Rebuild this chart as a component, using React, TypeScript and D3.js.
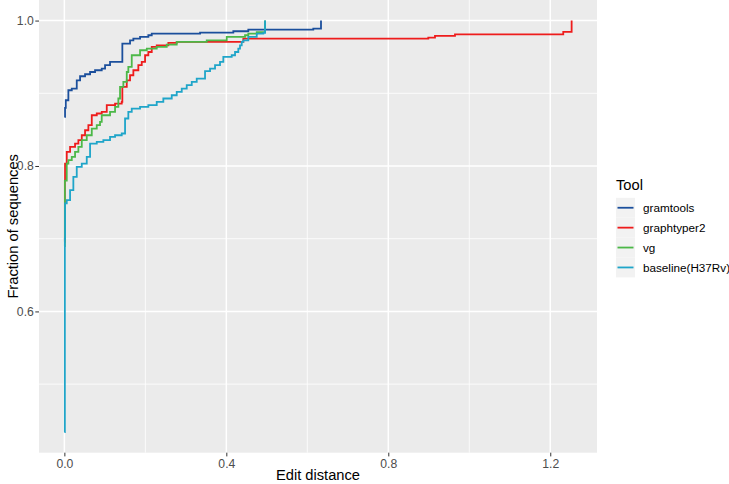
import React, { useEffect, useRef } from 'react';
import * as d3 from 'd3';

// Legend order + colours
const tools = ['gramtools', 'graphtyper2', 'vg', 'baseline(H37Rv)'];
const toolColors = ['#1B4F9C', '#EE1C1C', '#4CB848', '#1FA5C9'];

// Step corners (edit distance, fraction of sequences)
const gramtoolsDist = [0, 0.0017, 0.0035, 0.0099, 0.0183, 0.0306, 0.0388, 0.0511, 0.0635, 0.0758, 0.0923, 0.1005, 0.1128, 0.1432, 0.1622, 0.1704, 0.1869, 0.2074, 0.2158, 0.3351, 0.4173, 0.4543, 0.6148, 0.6338];
const gramtoolsFrac = [0.8675, 0.880, 0.8904, 0.9042, 0.9065, 0.9178, 0.9234, 0.9262, 0.9293, 0.9317, 0.9340, 0.9386, 0.9431, 0.9684, 0.9729, 0.9753, 0.9775, 0.9798, 0.9821, 0.9835, 0.9853, 0.9876, 0.9890, 1.0];

const graphtyperDist = [0, 0.0012, 0.0017, 0.0059, 0.0141, 0.0264, 0.0346, 0.0430, 0.0511, 0.0593, 0.0677, 0.0800, 0.0923, 0.1047, 0.1252, 0.1417, 0.1432, 0.1541, 0.1622, 0.1704, 0.1827, 0.1911, 0.1993, 0.2074, 0.2158, 0.2281, 0.2568, 0.2775, 0.4420, 0.8988, 0.9153, 0.9647, 1.2321, 1.2528];
const graphtyperFrac = [0.6957, 0.780, 0.8034, 0.8194, 0.8263, 0.8309, 0.8355, 0.8423, 0.8492, 0.8561, 0.8698, 0.8722, 0.8744, 0.8836, 0.8859, 0.8881, 0.9087, 0.9178, 0.9248, 0.9317, 0.9386, 0.9431, 0.9523, 0.9568, 0.9637, 0.9660, 0.9692, 0.9706, 0.9753, 0.9765, 0.9790, 0.9810, 0.9845, 1.0];

const vgDist = [0, 0.0012, 0.0059, 0.0099, 0.0183, 0.0264, 0.0346, 0.0430, 0.0553, 0.0677, 0.0800, 0.0881, 0.0923, 0.1128, 0.1252, 0.1333, 0.1375, 0.1457, 0.1541, 0.1580, 0.1664, 0.1869, 0.2035, 0.2281, 0.2528, 0.2775, 0.3516, 0.4010, 0.4462, 0.4543, 0.4751, 0.4956];
const vgFrac = [0.690, 0.780, 0.8034, 0.8080, 0.8125, 0.8194, 0.8263, 0.8355, 0.8423, 0.8515, 0.8561, 0.8606, 0.8698, 0.8744, 0.8812, 0.8928, 0.9087, 0.9156, 0.9293, 0.9362, 0.9523, 0.9592, 0.9615, 0.9637, 0.9670, 0.9706, 0.9729, 0.9775, 0.9798, 0.9821, 0.9840, 1.0];

const baselineDist = [0, 0.0012, 0.0017, 0.0059, 0.0141, 0.0222, 0.0306, 0.0430, 0.0553, 0.0635, 0.0800, 0.0963, 0.1128, 0.1252, 0.1417, 0.1499, 0.1580, 0.1664, 0.1869, 0.2074, 0.2281, 0.2444, 0.2652, 0.2775, 0.2899, 0.3022, 0.3146, 0.3269, 0.3474, 0.3598, 0.3721, 0.3844, 0.3926, 0.4133, 0.4215, 0.4296, 0.4338, 0.4380, 0.4420, 0.4543, 0.4751, 0.4914, 0.4956];
const baselineFrac = [0.434, 0.700, 0.7485, 0.7530, 0.7667, 0.7850, 0.7988, 0.8034, 0.8125, 0.8309, 0.8331, 0.8355, 0.8400, 0.8423, 0.8447, 0.8653, 0.8744, 0.8790, 0.8812, 0.8836, 0.8881, 0.8928, 0.8973, 0.9019, 0.9065, 0.9111, 0.9156, 0.9203, 0.9305, 0.9340, 0.9386, 0.9431, 0.9500, 0.9523, 0.9568, 0.9615, 0.9660, 0.9706, 0.9729, 0.9775, 0.9821, 0.9830, 1.0];

const xMajor = [0, 0.4, 0.8, 1.2];
const xMinor = [0.2, 0.6, 1.0];
const yMajor = [0.6, 0.8, 1.0];
const yMinor = [0.5, 0.7, 0.9];

const series = [
    { dist: gramtoolsDist, frac: gramtoolsFrac },
    { dist: graphtyperDist, frac: graphtyperFrac },
    { dist: vgDist, frac: vgFrac },
    { dist: baselineDist, frac: baselineFrac },
];

const FONT = '"Liberation Sans", Arial, Helvetica, sans-serif';

export default function App() {
    const svgRef = useRef<SVGSVGElement>(null);

    useEffect(() => {
        if (!svgRef.current) return;
        const svg = d3.select(svgRef.current);
        svg.selectAll('*').remove();

        const panel = { left: 39, right: 597, top: 0, bottom: 452.7 };

        // ggplot-style 5% expansion of the data range
        const allX = series.flatMap(s => s.dist);
        const allY = series.flatMap(s => s.frac);
        const [x0, x1] = d3.extent(allX) as [number, number];
        const [y0, y1] = d3.extent(allY) as [number, number];
        const ex = (x1 - x0) * 0.05;
        const ey = (y1 - y0) * 0.05;

        const x = d3.scaleLinear().domain([x0 - ex, x1 + ex]).range([panel.left, panel.right]);
        const y = d3.scaleLinear().domain([y0 - ey, y1 + ey]).range([panel.bottom, panel.top]);

        // panel background
        svg.append('rect')
            .attr('x', panel.left)
            .attr('y', panel.top)
            .attr('width', panel.right - panel.left)
            .attr('height', panel.bottom - panel.top)
            .attr('fill', '#EBEBEB');

        const grid = svg.append('g').attr('stroke', '#FFFFFF');
        grid.selectAll('line.xmin').data(xMinor).join('line')
            .attr('x1', d => x(d)).attr('x2', d => x(d))
            .attr('y1', panel.top).attr('y2', panel.bottom)
            .attr('stroke-width', 0.8);
        grid.selectAll('line.ymin').data(yMinor).join('line')
            .attr('y1', d => y(d)).attr('y2', d => y(d))
            .attr('x1', panel.left).attr('x2', panel.right)
            .attr('stroke-width', 0.8);
        grid.selectAll('line.xmaj').data(xMajor).join('line')
            .attr('x1', d => x(d)).attr('x2', d => x(d))
            .attr('y1', panel.top).attr('y2', panel.bottom)
            .attr('stroke-width', 1.5);
        grid.selectAll('line.ymaj').data(yMajor).join('line')
            .attr('y1', d => y(d)).attr('y2', d => y(d))
            .attr('x1', panel.left).attr('x2', panel.right)
            .attr('stroke-width', 1.5);

        // step curves
        const line = d3.line<[number, number]>()
            .x(d => x(d[0]))
            .y(d => y(d[1]))
            .curve(d3.curveStepAfter);

        series.forEach((s, i) => {
            const pts = s.dist.map((d, j) => [d, s.frac[j]] as [number, number]);
            svg.append('path')
                .datum(pts)
                .attr('fill', 'none')
                .attr('stroke', toolColors[i])
                .attr('stroke-width', 1.8)
                .attr('d', line);
        });

        // axes
        const xAxis = svg.append('g')
            .attr('transform', `translate(0,${panel.bottom})`)
            .call(d3.axisBottom(x).tickValues(xMajor).tickFormat(d3.format('.1f')).tickSize(3.7).tickPadding(3))
            .call(g => g.select('.domain').remove());
        xAxis.selectAll('line').attr('stroke', '#333333');
        xAxis.selectAll('text').attr('fill', '#4D4D4D').attr('font-size', 12.2).attr('font-family', FONT);

        const yAxis = svg.append('g')
            .attr('transform', `translate(${panel.left},0)`)
            .call(d3.axisLeft(y).tickValues(yMajor).tickFormat(d3.format('.1f')).tickSize(3.7).tickPadding(1.5))
            .call(g => g.select('.domain').remove());
        yAxis.selectAll('line').attr('stroke', '#333333');
        yAxis.selectAll('text').attr('fill', '#4D4D4D').attr('font-size', 12.2).attr('font-family', FONT);

        // axis titles
        svg.append('text')
            .attr('x', (panel.left + panel.right) / 2)
            .attr('y', 479.5)
            .attr('text-anchor', 'middle')
            .attr('font-family', FONT)
            .attr('font-size', 14.7)
            .attr('fill', '#000')
            .text('Edit distance');

        svg.append('text')
            .attr('transform', `translate(17.5,${(panel.top + panel.bottom) / 2}) rotate(-90)`)
            .attr('text-anchor', 'middle')
            .attr('font-family', FONT)
            .attr('font-size', 14.7)
            .attr('fill', '#000')
            .text('Fraction of sequences');

        // legend
        const legend = svg.append('g').attr('font-family', FONT);
        legend.append('text')
            .attr('x', 616)
            .attr('y', 189.5)
            .attr('font-size', 14.7)
            .text('Tool');

        const keyH = 19.9;
        const keyTop = 197.8;
        const keys = legend.selectAll('g.key')
            .data(tools)
            .join('g')
            .attr('transform', (d, i) => `translate(616,${keyTop + i * keyH})`);
        keys.append('rect')
            .attr('width', 19)
            .attr('height', keyH)
            .attr('fill', '#F2F2F2');
        keys.append('line')
            .attr('x1', 1.5).attr('x2', 17.5)
            .attr('y1', keyH / 2).attr('y2', keyH / 2)
            .attr('stroke', (d, i) => toolColors[i])
            .attr('stroke-width', 1.8);
        keys.append('text')
            .attr('x', 27)
            .attr('y', keyH / 2)
            .attr('dy', '0.36em')
            .attr('font-size', 11.7)
            .attr('fill', '#000')
            .text(d => d);
    }, []);

    return (
        <svg
            ref={svgRef}
            width={729}
            height={484}
            style={{ position: 'absolute', left: 0, top: 0, background: '#fff' }}
        />
    );
}
